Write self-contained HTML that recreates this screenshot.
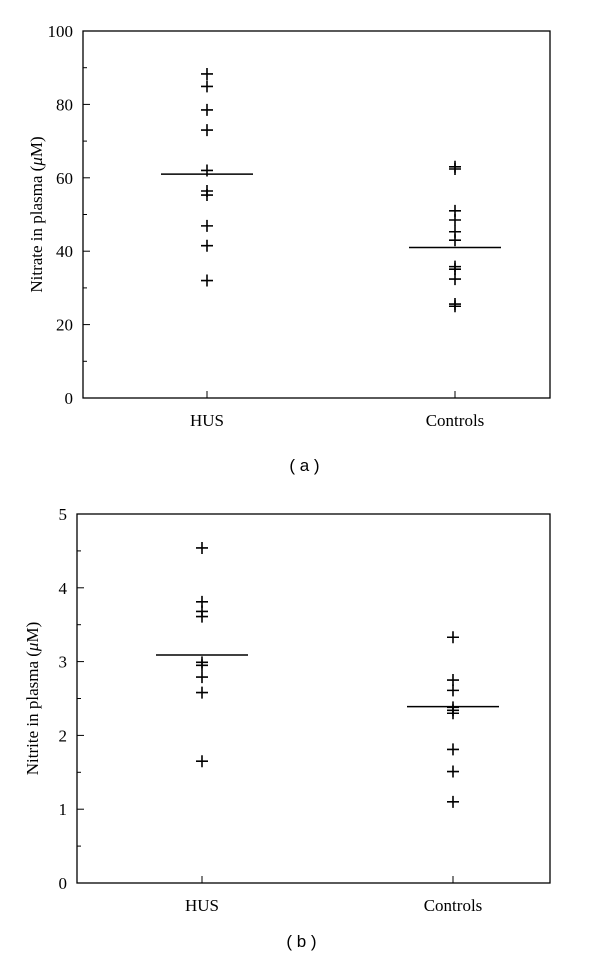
<!DOCTYPE html>
<html><head><meta charset="utf-8"><style>
body{margin:0;background:#fff;}
svg{display:block;font-family:"Liberation Serif",serif;}
</style></head><body>
<svg id="chart" width="600" height="969"></svg>
<script>
const categories=["HUS","Controls"];
const nitrateHUS=[88.3,84.9,78.5,73,62,56.4,55.3,46.9,41.5,32];
const nitrateControls=[63,62.4,51,48.5,45.3,43,35.8,35.1,32.4,25.6,25];
const nitrateMeans=[61,41];
const nitrateTicks=[0,20,40,60,80,100];
const nitriteHUS=[4.54,3.81,3.68,3.61,2.99,2.95,2.79,2.58,1.65];
const nitriteControls=[3.33,2.75,2.61,2.38,2.34,2.30,1.81,1.51,1.10];
const nitriteMeans=[3.09,2.39];
const nitriteTicks=[0,1,2,3,4,5];

const NS="http://www.w3.org/2000/svg";
const svg=document.getElementById('chart');
function mk(tag,attrs,parent){const e=document.createElementNS(NS,tag);for(const k in attrs)e.setAttribute(k,attrs[k]);(parent||svg).appendChild(e);return e;}

function panel(cfg){
  const g=mk('g',{});
  
  
  const {L,R,T,B,max,catX}=cfg;
  const y=v=>B-(v/max)*(B-T);
  const frame=mk('rect',{x:L,y:T,width:R-L,height:B-T,fill:'none',stroke:'#000','stroke-width':1.3},g);
  
  
  const minor=cfg.ticks[1]/2;
  for(let v=0;v<=max+1e-9;v+=minor){
    const major=Math.abs(v/cfg.ticks[1]-Math.round(v/cfg.ticks[1]))<1e-6;
    mk('line',{x1:L,x2:L+(major?7:4),y1:y(v),y2:y(v),stroke:'#000','stroke-width':1},g);
  }
  cfg.ticks.forEach(t=>{
    const tx=mk('text',{x:L-10,y:y(t)+6,'text-anchor':'end','font-size':17,fill:'#000'},g);
    tx.textContent=t;
    
    
  });
  categories.forEach((c,i)=>{
    const x=catX(i);
    mk('line',{x1:x,x2:x,y1:B,y2:B-7,stroke:'#000','stroke-width':1},g);
    const tx=mk('text',{x:x,y:B+28,'text-anchor':'middle','font-size':17,fill:'#000'},g);
    tx.textContent=c;
    
    
  });
  const yt=mk('text',{transform:`translate(${cfg.titleX},${(T+B)/2}) rotate(-90)`,'text-anchor':'middle','font-size':17,fill:'#000'},g);
  yt.innerHTML=cfg.title+' (<tspan font-style="italic">μ</tspan>M)';
  
  
  cfg.series.forEach((arr,i)=>{
    const x=catX(i);
    arr.forEach(v=>{
      const p=mk('path',{d:`M${x-6},${y(v)}H${x+6}M${x},${y(v)-6}V${y(v)+6}`,stroke:'#000','stroke-width':1.6,fill:'none'},g);
      
      
    });
    const m=mk('line',{x1:x-46,x2:x+46,y1:y(cfg.means[i]),y2:y(cfg.means[i]),stroke:'#000','stroke-width':1.5},g);
    
    
  });
  const cap=mk('text',{x:(L+R)/2-12,y:cfg.capY,'text-anchor':'middle','font-size':17,fill:'#000','font-family':'Liberation Sans, sans-serif'},g);
  cap.textContent=cfg.caption;
  
  
}
panel({name:'panel-a-nitrate',L:83,R:550,T:31,B:398,max:100,ticks:nitrateTicks,
  catX:i=>[207,455][i],series:[nitrateHUS,nitrateControls],means:nitrateMeans,
  title:'Nitrate in plasma',titleX:42,caption:'( a )',capY:471});
panel({name:'panel-b-nitrite',L:77,R:550,T:514,B:883,max:5,ticks:nitriteTicks,
  catX:i=>[202,453][i],series:[nitriteHUS,nitriteControls],means:nitriteMeans,
  title:'Nitrite in plasma',titleX:38,caption:'( b )',capY:947});
</script>
</body></html>
